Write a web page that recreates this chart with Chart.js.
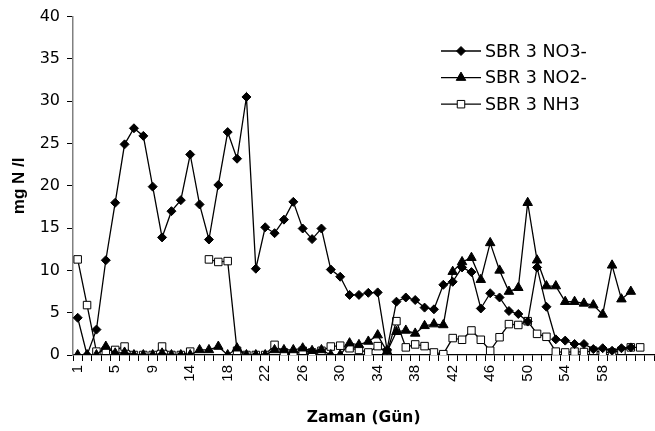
<!DOCTYPE html>
<html>
<head>
<meta charset="utf-8">
<script src="https://cdn.jsdelivr.net/npm/chart.js@4/dist/chart.umd.min.js"></script>
<style>
  html, body { margin: 0; padding: 0; background: #fff; }
  #wrap { width: 655px; height: 431px; }
</style>
</head>
<body>
<div id="wrap"><canvas id="c" width="655" height="431"></canvas></div>
<script>
// Categories (days) – day 13 is absent in the record
const days = [1,2,3,4,5,6,7,8,9,10,11,12,14,15,16,17,18,19,20,21,22,23,24,25,26,27,28,29,30,31,32,33,34,35,36,37,38,39,40,41,42,43,44,45,46,47,48,49,50,51,52,53,54,55,56,57,58,59,60,61,62,63];
const labelEvery = 4;
const lastLabelledDay = 58;

const no3 = [4.4,0,3.0,11.2,18.0,24.9,26.8,25.9,19.9,13.9,17.0,18.3,23.7,17.8,13.65,20.1,26.35,23.2,30.5,10.2,15.1,14.4,16.0,18.1,14.95,13.7,14.95,10.1,9.25,7.1,7.1,7.35,7.4,0.6,6.3,6.8,6.5,5.6,5.4,8.3,8.65,10.35,9.8,5.5,7.3,6.8,5.2,4.85,3.95,10.35,5.7,1.85,1.7,1.3,1.3,0.7,0.8,0.5,0.8,0.9,null,null];
const no2 = [0,0,0,1.0,0.2,0.3,0,0,0,0.2,0,0,0,0.6,0.6,1.0,0,0.8,0,0,0,0.6,0.6,0.6,0.8,0.5,0.6,0,0,1.4,1.2,1.6,2.35,0.4,2.75,2.9,2.55,3.45,3.65,3.55,9.85,11.0,11.5,8.9,13.25,10.0,7.5,7.95,18.0,11.2,8.15,8.15,6.3,6.3,6.1,5.9,4.8,10.6,6.6,7.5,null,null];
const nh3 = [11.3,5.9,0.4,0.5,0.6,1.0,0,0,0,1.0,0,0,0.4,null,11.3,11.0,11.1,0.5,0,0,0,1.2,0.3,0,0.5,0.3,0.5,1.0,1.1,0.8,0.6,0.3,1.05,0.3,4.0,0.9,1.25,1.05,0.3,0.1,2.0,1.8,2.9,1.8,0.5,2.1,3.65,3.55,4.0,2.5,2.15,0.4,0.3,0.4,0.35,0.5,0.3,0.3,0.5,0.9,0.9,null];

const seriesNames = ['SBR 3 NO3-', 'SBR 3 NO2-', 'SBR 3 NH3'];
const yMin = 0, yMax = 40, yStep = 5;

function drawMarker(ctx, style, r, x, y, fill) {
  ctx.save();
  ctx.beginPath();
  if (style === 'rectRot') {
    ctx.moveTo(x, y - r); ctx.lineTo(x + r, y); ctx.lineTo(x, y + r); ctx.lineTo(x - r, y);
  } else if (style === 'triangle') {
    ctx.moveTo(x, y - r);
    ctx.lineTo(x + r * 0.866, y + r * 0.5);
    ctx.lineTo(x - r * 0.866, y + r * 0.5);
  } else {
    const s = r * Math.SQRT1_2;
    ctx.rect(x - s, y - s, 2 * s, 2 * s);
  }
  ctx.closePath();
  ctx.fillStyle = fill;
  ctx.fill();
  ctx.lineWidth = 1;
  ctx.strokeStyle = '#000';
  ctx.stroke();
  ctx.restore();
}

const legendPlugin = {
  id: 'fixedLegend',
  afterDraw(chart) {
    const ctx = chart.ctx;
    const x0 = 441, x1 = 481, tx = 485, y0 = 51, dy = 26.6;
    chart.data.datasets.forEach((ds, i) => {
      const y = y0 + i * dy;
      ctx.save();
      ctx.strokeStyle = '#000';
      ctx.lineWidth = 1.3;
      ctx.beginPath(); ctx.moveTo(x0, y); ctx.lineTo(x1, y); ctx.stroke();
      drawMarker(ctx, ds.pointStyle, ds.pointRadius, (x0 + x1) / 2, y, ds.pointBackgroundColor);
      ctx.fillStyle = '#000';
      ctx.font = '17.5px "DejaVu Sans"';
      ctx.textBaseline = 'middle';
      ctx.textAlign = 'left';
      ctx.fillText(ds.label, tx, y + 1);
      ctx.restore();
    });
  }
};

const common = { borderColor: '#000', borderWidth: 1.3, pointBorderColor: '#000', pointBorderWidth: 1, tension: 0, spanGaps: false, pointHoverRadius: 5 };

new Chart(document.getElementById('c'), {
  type: 'line',
  data: {
    labels: days,
    datasets: [
      Object.assign({ label: seriesNames[0], data: no3, pointStyle: 'rectRot', pointRadius: 4.5, pointBackgroundColor: '#000' }, common),
      Object.assign({ label: seriesNames[1], data: no2, pointStyle: 'triangle', pointRadius: 5.5, pointBackgroundColor: '#000' }, common),
      Object.assign({ label: seriesNames[2], data: nh3, pointStyle: 'rect', pointRadius: 5.3, pointBackgroundColor: '#fff' }, common)
    ]
  },
  options: {
    responsive: false,
    animation: false,
    devicePixelRatio: 1,
    layout: { autoPadding: false, padding: { left: 9, right: 0.75, top: 16, bottom: 4 } },
    plugins: { legend: { display: false }, tooltip: { enabled: false } },
    scales: {
      x: {
        type: 'category',
        offset: true,
        grid: { display: true, offset: true, drawOnChartArea: false, drawTicks: true, tickLength: 6, color: '#000', tickColor: '#000', lineWidth: 1 },
        border: { display: true, color: '#000', width: 1.3 },
        ticks: {
          autoSkip: false, maxRotation: 90, minRotation: 90, padding: 4, color: '#000',
          font: { family: '"Liberation Sans", Arial', size: 15 },
          callback: function (v, i) { const d = days[i]; return (i % labelEvery === 0 && d <= lastLabelledDay) ? String(d) : ''; }
        },
        title: { display: true, text: 'Zaman (Gün)', color: '#000', font: { family: '"DejaVu Sans"', size: 15.5, weight: 'bold' }, padding: { top: 0, bottom: 0 } },
        afterFit: function (s) { s.height = 431 - 4 - 355; s.paddingLeft = 0; s.paddingRight = 0; }
      },
      y: {
        min: yMin, max: yMax,
        grid: { display: true, drawOnChartArea: false, drawTicks: true, tickLength: 6, color: '#000', tickColor: '#000' },
        border: { display: true, color: '#808080', width: 1.5 },
        ticks: { stepSize: yStep, padding: 7, color: '#000', font: { family: '"DejaVu Sans"', size: 16 } },
        title: { display: true, text: 'mg N /l', color: '#000', font: { family: '"Liberation Sans", Arial', size: 17, weight: 'bold' }, padding: { top: 0, bottom: 0 } },
        afterFit: function (s) { s.width = 73 - 9; }
      }
    }
  },
  plugins: [legendPlugin]
});
</script>
</body>
</html>
